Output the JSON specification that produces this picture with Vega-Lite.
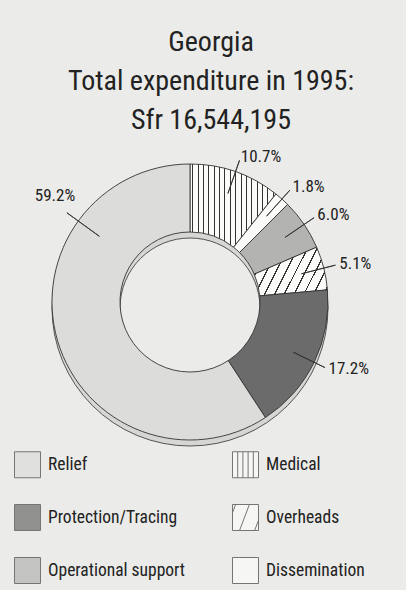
{
  "$schema": "https://vega.github.io/schema/vega-lite/v6.json",
  "width": 406,
  "height": 580,
  "padding": {"left": 8, "top": 12, "right": 0, "bottom": 0},
  "background": "#ebebe9",
  "config": {
    "view": {"stroke": "#444444", "strokeWidth": 1.6, "fill": "#f3f3f1"}
  },
  "title": {
    "text": ["Georgia", "Total expenditure in 1995:", "Sfr 16,544,195"],
    "font": "Roboto Condensed, Liberation Sans",
    "fontSize": 28,
    "fontWeight": "normal",
    "lineHeight": 39,
    "color": "#222222",
    "anchor": "middle",
    "frame": "group",
    "offset": -123
  },
  "data": {
    "values": [
      {"category": "Medical", "value": 0.107, "order": 1},
      {"category": "Dissemination", "value": 0.018, "order": 2},
      {"category": "Operational support", "value": 0.060, "order": 3},
      {"category": "Overheads", "value": 0.051, "order": 4},
      {"category": "Protection/Tracing", "value": 0.172, "order": 5},
      {"category": "Relief", "value": 0.592, "order": 6}
    ]
  },
  "layer": [
    {
      "transform": [{"aggregate": [{"op": "sum", "field": "value", "as": "total"}]}],
      "mark": {"type": "arc", "outerRadius": 138, "innerRadius": 70, "xOffset": -21, "yOffset": 6, "fill": "#d6d6d4", "stroke": "#444444", "strokeWidth": 0.9},
      "encoding": {
        "theta": {"field": "total", "type": "quantitative", "stack": true}
      }
    },
    {
      "mark": {"type": "arc", "outerRadius": 138, "innerRadius": 70, "xOffset": -21, "stroke": "#333333", "strokeWidth": 0.9},
      "encoding": {
        "theta": {"field": "value", "type": "quantitative", "stack": true},
        "order": {"field": "order", "type": "quantitative"},
        "fill": {
          "field": "category",
          "type": "nominal",
          "title": null,
          "condition": [
            {"test": "datum.category === 'Medical'", "value": {"gradient": "linear", "x1": 0, "y1": 0, "x2": 1, "y2": 0, "stops": [
              {"offset": 0, "color": "#fbfbfa"},
              {"offset": 0.025, "color": "#fbfbfa"}, {"offset": 0.025, "color": "#333333"}, {"offset": 0.037, "color": "#333333"}, {"offset": 0.037, "color": "#fbfbfa"},
              {"offset": 0.088, "color": "#fbfbfa"}, {"offset": 0.088, "color": "#333333"}, {"offset": 0.100, "color": "#333333"}, {"offset": 0.100, "color": "#fbfbfa"},
              {"offset": 0.150, "color": "#fbfbfa"}, {"offset": 0.150, "color": "#333333"}, {"offset": 0.162, "color": "#333333"}, {"offset": 0.162, "color": "#fbfbfa"},
              {"offset": 0.213, "color": "#fbfbfa"}, {"offset": 0.213, "color": "#333333"}, {"offset": 0.225, "color": "#333333"}, {"offset": 0.225, "color": "#fbfbfa"},
              {"offset": 0.275, "color": "#fbfbfa"}, {"offset": 0.275, "color": "#333333"}, {"offset": 0.287, "color": "#333333"}, {"offset": 0.287, "color": "#fbfbfa"},
              {"offset": 0.338, "color": "#fbfbfa"}, {"offset": 0.338, "color": "#333333"}, {"offset": 0.350, "color": "#333333"}, {"offset": 0.350, "color": "#fbfbfa"},
              {"offset": 0.400, "color": "#fbfbfa"}, {"offset": 0.400, "color": "#333333"}, {"offset": 0.412, "color": "#333333"}, {"offset": 0.412, "color": "#fbfbfa"},
              {"offset": 0.463, "color": "#fbfbfa"}, {"offset": 0.463, "color": "#333333"}, {"offset": 0.475, "color": "#333333"}, {"offset": 0.475, "color": "#fbfbfa"},
              {"offset": 0.525, "color": "#fbfbfa"}, {"offset": 0.525, "color": "#333333"}, {"offset": 0.537, "color": "#333333"}, {"offset": 0.537, "color": "#fbfbfa"},
              {"offset": 0.588, "color": "#fbfbfa"}, {"offset": 0.588, "color": "#333333"}, {"offset": 0.600, "color": "#333333"}, {"offset": 0.600, "color": "#fbfbfa"},
              {"offset": 0.650, "color": "#fbfbfa"}, {"offset": 0.650, "color": "#333333"}, {"offset": 0.662, "color": "#333333"}, {"offset": 0.662, "color": "#fbfbfa"},
              {"offset": 0.713, "color": "#fbfbfa"}, {"offset": 0.713, "color": "#333333"}, {"offset": 0.725, "color": "#333333"}, {"offset": 0.725, "color": "#fbfbfa"},
              {"offset": 0.775, "color": "#fbfbfa"}, {"offset": 0.775, "color": "#333333"}, {"offset": 0.787, "color": "#333333"}, {"offset": 0.787, "color": "#fbfbfa"},
              {"offset": 0.838, "color": "#fbfbfa"}, {"offset": 0.838, "color": "#333333"}, {"offset": 0.850, "color": "#333333"}, {"offset": 0.850, "color": "#fbfbfa"},
              {"offset": 0.900, "color": "#fbfbfa"}, {"offset": 0.900, "color": "#333333"}, {"offset": 0.912, "color": "#333333"}, {"offset": 0.912, "color": "#fbfbfa"},
              {"offset": 0.963, "color": "#fbfbfa"}, {"offset": 0.963, "color": "#333333"}, {"offset": 0.975, "color": "#333333"}, {"offset": 0.975, "color": "#fbfbfa"},
              {"offset": 1, "color": "#fbfbfa"}
            ]}},
            {"test": "datum.category === 'Overheads'", "value": {"gradient": "linear", "x1": 0, "y1": 0, "x2": 1.2, "y2": 0.4, "stops": [
              {"offset": 0, "color": "#fbfbfa"},
              {"offset": 0.0425, "color": "#fbfbfa"}, {"offset": 0.0425, "color": "#333333"}, {"offset": 0.0575, "color": "#333333"}, {"offset": 0.0575, "color": "#fbfbfa"},
              {"offset": 0.1425, "color": "#fbfbfa"}, {"offset": 0.1425, "color": "#333333"}, {"offset": 0.1575, "color": "#333333"}, {"offset": 0.1575, "color": "#fbfbfa"},
              {"offset": 0.2425, "color": "#fbfbfa"}, {"offset": 0.2425, "color": "#333333"}, {"offset": 0.2575, "color": "#333333"}, {"offset": 0.2575, "color": "#fbfbfa"},
              {"offset": 0.3425, "color": "#fbfbfa"}, {"offset": 0.3425, "color": "#333333"}, {"offset": 0.3575, "color": "#333333"}, {"offset": 0.3575, "color": "#fbfbfa"},
              {"offset": 0.4425, "color": "#fbfbfa"}, {"offset": 0.4425, "color": "#333333"}, {"offset": 0.4575, "color": "#333333"}, {"offset": 0.4575, "color": "#fbfbfa"},
              {"offset": 0.5425, "color": "#fbfbfa"}, {"offset": 0.5425, "color": "#333333"}, {"offset": 0.5575, "color": "#333333"}, {"offset": 0.5575, "color": "#fbfbfa"},
              {"offset": 0.6425, "color": "#fbfbfa"}, {"offset": 0.6425, "color": "#333333"}, {"offset": 0.6575, "color": "#333333"}, {"offset": 0.6575, "color": "#fbfbfa"},
              {"offset": 0.7425, "color": "#fbfbfa"}, {"offset": 0.7425, "color": "#333333"}, {"offset": 0.7575, "color": "#333333"}, {"offset": 0.7575, "color": "#fbfbfa"},
              {"offset": 0.8425, "color": "#fbfbfa"}, {"offset": 0.8425, "color": "#333333"}, {"offset": 0.8575, "color": "#333333"}, {"offset": 0.8575, "color": "#fbfbfa"},
              {"offset": 0.9425, "color": "#fbfbfa"}, {"offset": 0.9425, "color": "#333333"}, {"offset": 0.9575, "color": "#333333"}, {"offset": 0.9575, "color": "#fbfbfa"},
              {"offset": 1, "color": "#fbfbfa"}
            ]}}
          ],
          "scale": {
            "domain": ["Relief", "Protection/Tracing", "Operational support", "Medical", "Overheads", "Dissemination"],
            "range": ["#dcdcda", "#6b6b6b", "#b3b3b1", "#fbfbfa", "#fbfbfa", "#fbfbfa"]
          },
          "legend": {
            "title": null, "orient": "bottom-left", "offset": 6, "columns": 2, "columnPadding": 44, "rowPadding": 22,
            "symbolSize": 676, "symbolStrokeColor": "#444444", "symbolStrokeWidth": 1,
            "labelFont": "Roboto Condensed, Liberation Sans", "labelFontSize": 17.5, "labelColor": "#222222", "labelOffset": 7, "labelLimit": 300
          }
        }
      }
    },
    {
      "mark": {"type": "point", "filled": true, "size": 0, "stroke": "#444444", "strokeWidth": 1},
      "encoding": {
        "fill": {
          "field": "category", "type": "nominal", "title": null,
          "legend": {
            "title": null, "orient": "bottom-left", "offset": 6, "columns": 2, "columnPadding": 44, "rowPadding": 22,
            "symbolSize": 676, "symbolStrokeColor": "#444444", "symbolStrokeWidth": 1,
            "labelFont": "Roboto Condensed, Liberation Sans", "labelFontSize": 17.5, "labelColor": "#222222", "labelOffset": 7, "labelLimit": 300
          }
        },
        "shape": {
          "field": "category",
          "type": "nominal",
          "title": null,
          "scale": {
            "domain": ["Relief", "Protection/Tracing", "Operational support", "Medical", "Overheads", "Dissemination"],
            "range": [
              "square", "square", "square",
              "M-1,-1H1V1H-1Z M-0.6,-1V1 M-0.2,-1V1 M0.2,-1V1 M0.6,-1V1",
              "M-1,-1H1V1H-1Z M0.3,-1L-0.46,1 M-0.76,-1L-1,-0.37 M0.7,1L1,0.21",
              "square"
            ]
          },
          "legend": {
            "title": null, "orient": "bottom-left", "offset": 6, "columns": 2, "columnPadding": 44, "rowPadding": 22,
            "symbolSize": 676, "symbolStrokeColor": "#444444", "symbolStrokeWidth": 1,
            "labelFont": "Roboto Condensed, Liberation Sans", "labelFontSize": 17.5, "labelColor": "#222222", "labelOffset": 7, "labelLimit": 300
          }
        }
      }
    },
    {
      "mark": {
        "type": "arc", "outerRadius": 150, "innerRadius": 115, "padAngle": 3.1416, "xOffset": -21,
        "fill": "transparent", "stroke": "#333333", "strokeWidth": 0.9,
        "strokeOpacity": {"expr": "datum.category === 'Relief' ? 0 : 1"}
      },
      "encoding": {
        "theta": {"field": "value", "type": "quantitative", "stack": true},
        "order": {"field": "order", "type": "quantitative"},
        "detail": {"field": "category", "type": "nominal"}
      }
    },
    {
      "transform": [{"filter": "datum.category === 'Relief'"}],
      "mark": {
        "type": "arc", "outerRadius": 152, "innerRadius": 112, "padAngle": 3.1416, "xOffset": -21,
        "fill": "transparent", "stroke": "#333333", "strokeWidth": 0.9,
        "thetaOffset": 1.62, "theta2Offset": 1.62
      },
      "encoding": {
        "theta": {"field": "value", "type": "quantitative", "stack": null},
        "theta2": {"field": "value"}
      }
    },
    {
      "mark": {
        "type": "text", "radius": 154, "xOffset": -21,
        "font": "Roboto Condensed, Liberation Sans", "fontSize": 17, "fill": "#222222",
        "align": {"expr": "datum.category === 'Relief' ? 'center' : 'left'"},
        "baseline": {"expr": "datum.category === 'Relief' ? 'bottom' : 'middle'"},
        "dx": {"expr": "datum.category === 'Relief' ? -12 : 0"},
        "dy": {"expr": "datum.category === 'Relief' ? -4 : 0"},
        "thetaOffset": {"expr": "datum.category === 'Relief' ? 0.935 : 0"}
      },
      "encoding": {
        "theta": {"field": "value", "type": "quantitative", "stack": true},
        "order": {"field": "order", "type": "quantitative"},
        "detail": {"field": "category", "type": "nominal"},
        "text": {"field": "value", "type": "quantitative", "format": ".1%"}
      }
    }
  ]
}
